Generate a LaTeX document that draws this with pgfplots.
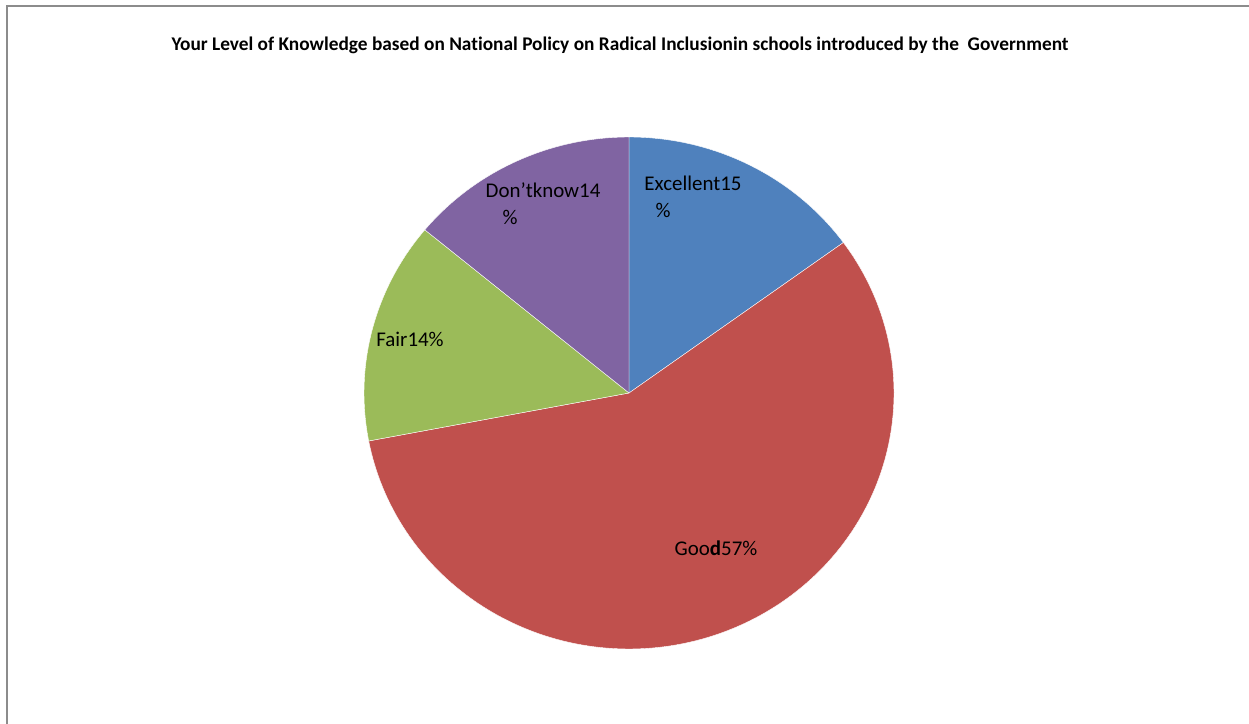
\documentclass[border=0pt]{standalone}
\usepackage{fontspec}
\setmainfont{Carlito}[Ligatures=NoCommon]
\usepackage{pgfplots}
\pgfplotsset{compat=1.18}

\definecolor{cExc}{HTML}{4F81BD}
\definecolor{cGood}{HTML}{C0504D}
\definecolor{cFair}{HTML}{9BBB59}
\definecolor{cDk}{HTML}{8064A2}
\definecolor{frameGray}{HTML}{8C8C8C}

% shares of respondents, in per cent
\def\vExc{15}
\def\vGood{57}
\def\vFair{14}
\def\vDk{14}
% cumulative bounds of each slice (clockwise from 12 o'clock)
\pgfmathsetmacro{\cA}{\vExc}
\pgfmathsetmacro{\cB}{\cA+\vGood}
\pgfmathsetmacro{\cC}{\cB+\vFair}
\pgfmathsetmacro{\cD}{\cC+\vDk}

\begin{document}
\begin{tikzpicture}
\useasboundingbox (0,0) rectangle (1249bp,724bp);
% outer frame
\draw[frameGray, line width=2bp] (7bp,-20bp) -- (7bp,718bp) -- (1270bp,718bp);
% title
\node[font=\fontsize{19.4}{22}\selectfont\bfseries, anchor=center] at (620bp,679bp)
  {Your Level of Knowledge based on National Policy on Radical Inclusionin schools introduced by the\ \ Government};
\begin{axis}[at={(0,0)}, anchor=south west, scale only axis,
  width=1249bp, height=724bp, hide axis,
  xmin=-2.3736, xmax=2.3396, ymin=-1.2930, ymax=1.5352, clip=false]
\addplot[fill=cExc, draw=white, line width=0.4pt, domain=0:\cA, samples=60, variable=\t]
  ({cos(90-3.6*\t)},{sin(90-3.6*\t)}) -- (axis cs:0,0) -- cycle;
\addplot[fill=cGood, draw=white, line width=0.4pt, domain=\cA:\cB, samples=150, variable=\t]
  ({cos(90-3.6*\t)},{sin(90-3.6*\t)}) -- (axis cs:0,0) -- cycle;
\addplot[fill=cFair, draw=white, line width=0.4pt, domain=\cB:\cC, samples=60, variable=\t]
  ({cos(90-3.6*\t)},{sin(90-3.6*\t)}) -- (axis cs:0,0) -- cycle;
\addplot[fill=cDk, draw=white, line width=0.4pt, domain=\cC:\cD, samples=60, variable=\t]
  ({cos(90-3.6*\t)},{sin(90-3.6*\t)}) -- (axis cs:0,0) -- cycle;
% data labels
\begin{scope}[every node/.style={font=\fontsize{21}{25}\selectfont, inner sep=0pt}]
\node at (axis cs:0.2415,0.8203) {Excellent\vExc};
\node at (axis cs:0.1283,0.7148) {\%};
\node at (axis cs:-0.3245,0.7930) {Don’tknow\vDk};
\node at (axis cs:-0.4491,0.6875) {\%};
\node at (axis cs:-0.8264,0.2109) {Fair\vFair\%};
\node at (axis cs:0.3283,-0.6055) {Goo\textbf{d}\vGood\%};
\end{scope}
\end{axis}
\end{tikzpicture}
\end{document}
